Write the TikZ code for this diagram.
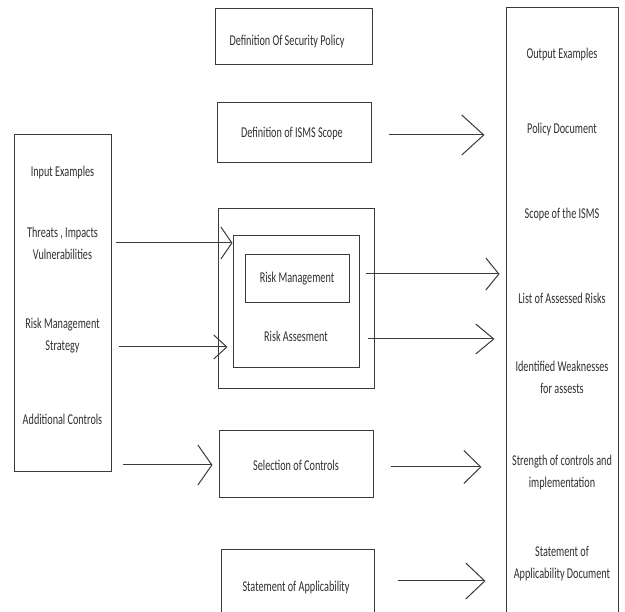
\documentclass[tikz,border=0pt]{standalone}
\usepackage{fontspec}
\setmainfont{Carlito}[FakeStretch=0.68]
\usetikzlibrary{arrows.meta}
\definecolor{ln}{HTML}{3A3A3A}
\definecolor{tx}{HTML}{303030}
\tikzset{
  box/.style={draw=ln, line width=1pt, minimum width=#1, inner sep=0pt},
  lbl/.style={text=tx, font=\fontsize{15}{22}\selectfont, align=center, inner sep=0pt},
  conn/.style={draw=ln, line width=1pt},
  chev/.style n args={2}{-{Straight Barb[length=#1pt, width=#2pt, line width=1pt]}}
}
\begin{document}
\begin{tikzpicture}[x=1pt, y=-1pt]
\clip (0,0) rectangle (625,612);
\fill[white] (0,0) rectangle (625,612);
% boxes
\node[box=157pt, minimum height=56pt] (pol) at (293.5,37) {};
\node[box=154pt, minimum height=60pt] (isms) at (294,133) {};
\node[box=97pt, minimum height=337pt] (in) at (62.5,303.5) {};
\node[box=112pt, minimum height=640pt] (out) at (562,328) {};
\node[box=156pt, minimum height=180pt] (outer) at (296,299) {};
\node[box=126pt, minimum height=132pt] (mid) at (296,302) {};
\node[box=104pt, minimum height=48pt] (rm) at (297,279) {};
\node[box=154pt, minimum height=67pt] (sel) at (296,464.5) {};
\node[box=153pt, minimum height=80pt] (soa) at (297.5,590) {};
% texts
\node[lbl] (tpol) at (287,42) {Definition Of Security Policy};
\node[lbl] (tisms) at (292,134) {Definition of ISMS Scope};
\node[lbl] (trm) at (297,279) {Risk Management};
\node[lbl] (tra) at (296,336) {Risk Assesment};
\node[lbl] (tsel) at (296,465) {Selection of Controls};
\node[lbl] (tsoa) at (296,588) {Statement of Applicability};
\node[lbl] (i0) at (62.5,173) {Input Examples};
\node[lbl] (i1) at (62.5,243) {Threats , Impacts\\Vulnerabilities};
\node[lbl] (i2) at (62.5,336) {Risk Management\\Strategy};
\node[lbl] (i3) at (62.5,419) {Additional Controls};
\node[lbl] (o0) at (562,55) {Output Examples};
\node[lbl] (o1) at (562,130) {Policy Document};
\node[lbl] (o2) at (562,215) {Scope of the ISMS};
\node[lbl] (o3) at (562,298) {List of Assessed Risks};
\node[lbl] (o4) at (562,377) {Identified Weaknesses\\for assests};
\node[lbl] (o5) at (562,473) {Strength of controls and\\implementation};
\node[lbl] (o6) at (562,564) {Statement of\\Applicability Document};
% connectors
\draw[conn, chev={22}{40}, shorten <=17pt, shorten >=21pt] (isms.east |- 0,135) -- (out.west |- 0,135);
\draw[conn, chev={11}{32}, shorten <=4pt] (in.east |- 0,243) -- (mid.west |- 0,243);
\draw[conn, chev={13}{24}, shorten <=7pt, shorten >=5pt] (in.east |- 0,347) -- (mid.west |- 0,347);
\draw[conn, chev={13}{32}, shorten <=6pt, shorten >=6pt] (mid.east |- 0,274) -- (out.west |- 0,274);
\draw[conn, chev={18}{30}, shorten <=8pt, shorten >=11pt] (mid.east |- 0,339) -- (out.west |- 0,339);
\draw[conn, chev={14}{40}, shorten <=11pt, shorten >=6pt] (in.east |- 0,465) -- (sel.west |- 0,465);
\draw[conn, chev={17}{33}, shorten <=17pt, shorten >=24pt] (sel.east |- 0,467) -- (out.west |- 0,467);
\draw[conn, chev={19}{36}, shorten <=23pt, shorten >=20pt] (soa.east |- 0,581) -- (out.west |- 0,581);
\end{tikzpicture}
\end{document}
